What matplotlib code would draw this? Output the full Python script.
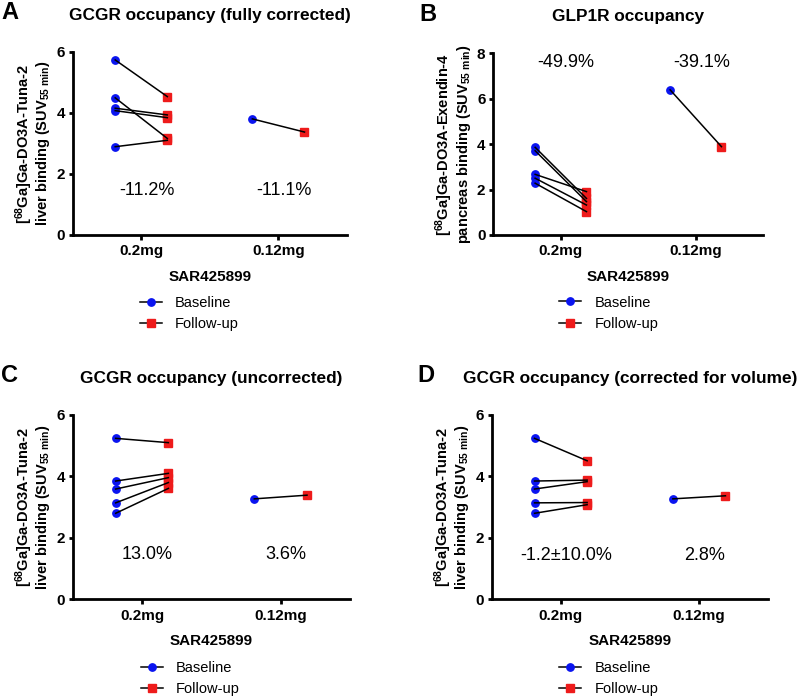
import matplotlib
matplotlib.use("Agg")
import matplotlib.pyplot as plt
from matplotlib.lines import Line2D

plt.rcParams["font.family"] = ["Liberation Sans", "DejaVu Sans"]
plt.rcParams["mathtext.default"] = "regular"

categories = ["0.2mg", "0.12mg"]

# panel A: GCGR fully corrected
a_base_02 = [5.73, 4.49, 4.15, 4.07, 2.89]
a_follow_02 = [4.53, 3.16, 3.93, 3.84, 3.10]
a_base_012 = [3.80]
a_follow_012 = [3.37]
a_pct = ["-11.2%", "-11.1%"]

# panel B: GLP1R
b_base_02 = [3.86, 3.71, 2.67, 2.50, 2.28]
b_follow_02 = [1.61, 1.47, 1.91, 1.32, 1.03]
b_base_012 = [6.39]
b_follow_012 = [3.89]
b_pct = ["-49.9%", "-39.1%"]

# panel C: GCGR uncorrected
c_base_02 = [5.24, 3.85, 3.59, 3.14, 2.80]
c_follow_02 = [5.10, 4.10, 3.96, 3.80, 3.61]
c_base_012 = [3.27]
c_follow_012 = [3.39]
c_pct = ["13.0%", "3.6%"]

# panel D: GCGR corrected for volume
d_base_02 = [5.24, 3.85, 3.59, 3.14, 2.80]
d_follow_02 = [4.51, 3.88, 3.83, 3.15, 3.08]
d_base_012 = [3.27]
d_follow_012 = [3.37]
d_pct = ["-1.2\u00b110.0%", "2.8%"]

LIVER_LABEL = "[$^{68}$Ga]Ga-DO3A-Tuna-2\nliver binding (SUV$_{55\\ min}$)"
PANC_LABEL = "[$^{68}$Ga]Ga-DO3A-Exendin-4\npancreas binding (SUV$_{55\\ min}$)"

BLUE = "#0a14f0"
RED = "#ee1b1b"
OFFSET = 0.19

W, H = 800, 697
fig = plt.figure(figsize=(W / 100, H / 100), dpi=100)


def px_axes(left, top, right, bottom):
    return fig.add_axes([left / W, 1 - bottom / H, (right - left) / W, (bottom - top) / H])


def draw_panel(ax, base_sets, follow_sets, ymax, ylabel, pct, pct_y, title, letter, letter_x):
    for i, (bases, follows) in enumerate(zip(base_sets, follow_sets)):
        x0 = i + 1 - OFFSET
        x1 = i + 1 + OFFSET
        ax.plot([x0] * len(bases), bases, "o", color=BLUE, ms=5.3, zorder=2, clip_on=False)
        ax.plot([x1] * len(follows), follows, "s", color=RED, ms=5.3, zorder=2, clip_on=False)
        for b, f in zip(bases, follows):
            ax.plot([x0, x1], [b, f], color="black", lw=1.1, zorder=3)
        ax.text(i + 1.04, pct_y, pct[i], ha="center", va="center", fontsize=13)

    ax.set_xlim(0.5, 2.5)
    ax.set_ylim(0, ymax)
    ax.set_yticks(range(0, ymax + 1, 2))
    ax.set_xticks([1, 2])
    ax.set_xticklabels(categories)
    for side in ("top", "right"):
        ax.spines[side].set_visible(False)
    for side in ("left", "bottom"):
        ax.spines[side].set_linewidth(2)
    ax.tick_params(axis="both", width=2, labelsize=11)
    ax.tick_params(axis="y", length=3.2, pad=2.5)
    ax.tick_params(axis="x", length=3.8, pad=3)
    for lab in ax.get_xticklabels() + ax.get_yticklabels():
        lab.set_fontweight("bold")
    ax.set_xlabel("SAR425899", fontsize=11, fontweight="bold", labelpad=8)
    ax.set_ylabel(ylabel, fontsize=10.5, fontweight="bold", labelpad=3, linespacing=0.95)
    ax.set_title(title, fontsize=12.4, fontweight="bold", pad=23)

    handles = [
        Line2D([], [], color="black", lw=1.1, marker="o", ms=5.3, mfc=BLUE, mec=BLUE),
        Line2D([], [], color="black", lw=1.1, marker="s", ms=5.3, mfc=RED, mec=RED),
    ]
    ax.legend(handles, ["Baseline", "Follow-up"], loc="upper left",
              bbox_to_anchor=(0.245, -0.333), frameon=False, fontsize=10.5,
              handlelength=1.5, handletextpad=0.9, labelspacing=0.51,
              borderpad=0, borderaxespad=0)

    bbox = ax.get_position()
    title_y = bbox.y1 + 39 / H
    fig.text(letter_x / W, title_y, letter, fontsize=17, fontweight="bold",
             ha="left", va="center")


ax_a = px_axes(72.7, 51.7, 347, 235)
draw_panel(ax_a, [a_base_02, a_base_012], [a_follow_02, a_follow_012], 6,
           LIVER_LABEL, a_pct, 1.47, "GCGR occupancy (fully corrected)", "A", 1)

ax_b = px_axes(493.3, 53.3, 763.3, 235)
draw_panel(ax_b, [b_base_02, b_base_012], [b_follow_02, b_follow_012], 8,
           PANC_LABEL, b_pct, 7.59, "GLP1R occupancy", "B", 419)

ax_c = px_axes(72.7, 415, 350, 599.3)
draw_panel(ax_c, [c_base_02, c_base_012], [c_follow_02, c_follow_012], 6,
           LIVER_LABEL, c_pct, 1.46, "GCGR occupancy (uncorrected)", "C", 1)

ax_d = px_axes(491.7, 415, 768.3, 599.3)
draw_panel(ax_d, [d_base_02, d_base_012], [d_follow_02, d_follow_012], 6,
           LIVER_LABEL, d_pct, 1.44, "GCGR occupancy (corrected for volume)", "D", 417)

fig.savefig("out.png", dpi=100)
